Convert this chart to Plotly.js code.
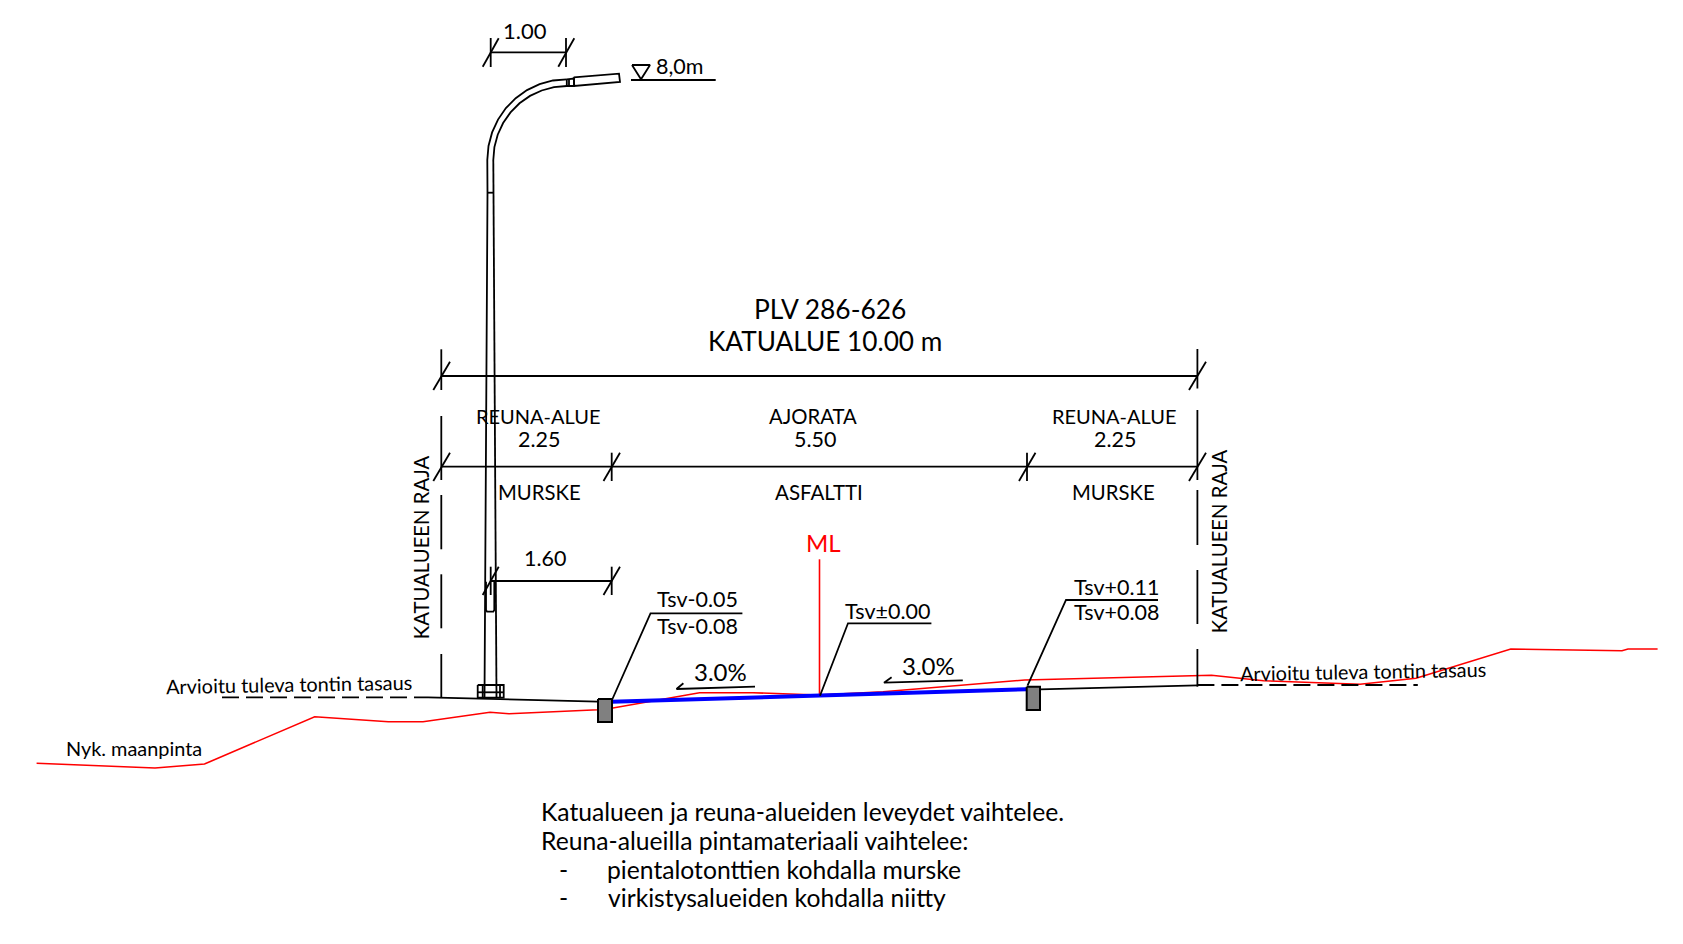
<!DOCTYPE html>
<html><head><meta charset="utf-8">
<script src="https://cdn.plot.ly/plotly-3.0.1.min.js"></script>
<style>html,body{margin:0;padding:0;background:#fff}#c{width:1683px;height:944px}</style>
</head><body><div id="c"></div>
<script>
// Values (horizontal / vertical position on the drawing sheet)
const groundX=[36.6,155,204.5,314.7,388.4,423,490,509,598,611.5,699.5,753,818,883,1024.8,1100,1197.4,1211.5,1263.6,1315.6,1360,1416,1510.8,1622,1628,1657.6];
const groundY=[763.3,768,764,716.7,721.7,721.7,712.3,713.7,709.7,708.3,692.7,692.7,695,691.7,680,678.3,676,675.3,680.7,682.7,684.3,678.3,649,650.7,649,649];
const asphaltX=[611.5,820,1026.7];
const asphaltY=[701.7,695.7,689.3];
const levelX=[428,598,null,1040,1197.4];
const levelY=[697.3,701.7,null,689.3,685.3];
const futureX=[222,428,null,1197.4,1417.8];
const futureY=[697.3,697.3,null,685,685];
const mlX=[819.5,819.5];
const mlY=[559.3,695.5];
const curbLeftX=[598,612,612,598,598];
const curbLeftY=[699,699,722,722,699];
const curbRightX=[1026.7,1040,1040,1026.7,1026.7];
const curbRightY=[686.7,686.7,710,710,686.7];
const armOuterX=[487.3,488.5,492.1,498,505.9,515.7,527,539.6,553,566.8];
const armOuterY=[160,146,132.4,119.6,108.1,98.2,90.1,84.2,80.5,79.3];
const armInnerX=[493.3,494.4,497.7,503.1,510.5,519.5,530,541.7,554,566.8];
const armInnerY=[160,147.1,134.7,123,112.4,103.3,95.9,90.5,87.1,86];
const poleX=[487.3,487.5,484.5,null,493.3,493.5,496.5,null,487.5,493.5,null,486,486,487,493.3,494.3,494.3,null,477.7,503.7,503.7,477.7,477.7,null,477.7,503.7,null,482.7,482.7,null,500,500];
const poleY=[160,192.7,697.5,null,160,192.7,697.5,null,192.7,192.7,null,581.7,610,611.7,611.7,610,581.7,null,685,685,697.7,697.7,685,null,692.3,692.3,null,685,697.7,null,685,697.7];
const lampX=[566.8,574,574,566.8,566.8,null,569,569,null,573.7,619,620,574.3,573.7];
const lampY=[79.3,78.5,86,86,79.3,null,79.5,86,null,77.3,73.7,82,86,77.3];
const levelMarkX=[632,650,641,632,null,631,715.7];
const levelMarkY=[65,65,79.3,65,null,80,80];
const dimX=[441.3,1197.4,null,441.3,1197.4,null,490.7,611.7,null,490.7,566,null,
  433.3,450,null,1189,1206,null,433.3,450,null,603.5,620,null,1019,1035.5,null,1189,1206,null,482.7,498.7,null,603.5,620,null,482.7,498.7,null,558.3,574.3,null,
  490.7,490.7,null,566,566,null,490.7,490.7,null,611.7,611.7,null,611.7,611.7,null,1027,1027];
const dimY=[376,376,null,466.7,466.7,null,581,581,null,52.3,52.3,null,
  390,361.7,null,390,361.7,null,481,452.7,null,481,452.7,null,481,452.7,null,481,452.7,null,595,566.7,null,595,566.7,null,66.7,38.3,null,66.7,38.3,null,
  38,67,null,38,67,null,566.7,595,null,566.7,595,null,452.7,481,null,452.7,481];
const borderX=[441.3,441.3,null,441.3,441.3,null,441.3,441.3,null,441.3,441.3,null,441.3,441.3,null,1197.4,1197.4,null,1197.4,1197.4,null,1197.4,1197.4,null,1197.4,1197.4,null,1197.4,1197.4];
const borderY=[349.3,390,null,416,480,null,495,549.3,null,574.3,628.3,null,654,697,null,349,388.5,null,410,480,null,490,545,null,570,624,null,649,686.7];
const leaderX=[612,650.5,742.4,null,820,848,931.4,null,1027.5,1066,1158];
const leaderY=[700,613.3,613.3,null,695.7,623.3,623.3,null,685.7,600,600];
const slopeX=[755,676.5,683.4,null,962.8,884,891.6];
const slopeY=[686.7,689,683.3,null,680.3,682.7,677.3];

const labels=[
 ["1.00",524.5,30.5,22,0,"#000"],["8,0m",680,65.7,21.5,0,"#000"],
 ["PLV 286-626",829.7,308.5,26.4,0,"#000"],["KATUALUE 10.00 m",825.4,341,26.2,0,"#000"],
 ["REUNA-ALUE",538.3,415.7,20,0,"#000"],["2.25",539.3,439,21.5,0,"#000"],["MURSKE",539.7,492.2,20.3,0,"#000"],
 ["AJORATA",813,415.7,20.3,0,"#000"],["5.50",815.3,439,21.5,0,"#000"],["ASFALTTI",818.7,492.2,20.5,0,"#000"],
 ["REUNA-ALUE",1114,415.7,20,0,"#000"],["2.25",1114.5,439,21.5,0,"#000"],["MURSKE",1113.5,492.2,20.3,0,"#000"],
 ["ML",823.3,542.7,24,0,"#f00"],["1.60",545.3,558.3,21.5,0,"#000"],
 ["Tsv-0.05",697.6,599,21.5,0,"#000"],["Tsv-0.08",697.6,625.7,21.5,0,"#000"],["Tsv±0.00",887.8,610.7,21.5,0,"#000"],
 ["Tsv+0.11",1116,586.7,21.5,0,"#000"],["Tsv+0.08",1116,612.3,21.5,0,"#000"],
 ["3.0%",720.5,671.3,24,0,"#000"],["3.0%",928.4,665,24,0,"#000"],
 ["KATUALUEEN RAJA",420.7,547.5,20.3,-90,"#000"],["KATUALUEEN RAJA",1218.5,541.7,20.3,-90,"#000"],
 ["Arvioitu tuleva tontin tasaus",289.3,684,19.9,-1,"#000"],["Arvioitu tuleva tontin tasaus",1363,671.2,19.9,-1,"#000"],
 ["Nyk. maanpinta",134,748.3,19.9,0,"#000"]
];
const notes=[["Katualueen ja reuna-alueiden leveydet vaihtelee.",539,811.5],["Reuna-alueilla pintamateriaali vaihtelee:",539,840.5],
 ["-",557,869.5],["pientalotonttien kohdalla murske",605,869.5],["-",557,897.3],["virkistysalueiden kohdalla niitty",606,897.3]];

const FONT="Lato, Carlito, sans-serif";
function ln(x,y,color,width,extra){return {type:"scatter",mode:"lines",x:x,y:y,hoverinfo:"skip",showlegend:false,connectgaps:false,line:Object.assign({color:color,width:width},extra||{})};}
const traces=[
 ln(groundX,groundY,"#f00",1.6),
 ln(levelX,levelY,"#000",1.8),
 ln(futureX,futureY,"#000",1.8,{dash:"17px,7px"}),
 ln(mlX,mlY,"#f00",1.6),
 ln(asphaltX,asphaltY,"#00f",4),
 ln(armOuterX,armOuterY,"#000",1.8),
 ln(armInnerX,armInnerY,"#000",1.8),
 ln(poleX,poleY,"#000",1.8),
 ln(lampX,lampY,"#000",1.8),
 ln(levelMarkX,levelMarkY,"#000",1.8),
 ln(dimX,dimY,"#000",1.8),
 ln(borderX,borderY,"#000",1.8),
 ln(leaderX,leaderY,"#000",1.8),
 ln(slopeX,slopeY,"#000",1.8),
 Object.assign(ln(curbLeftX,curbLeftY,"#000",2),{fill:"toself",fillcolor:"#808080"}),
 Object.assign(ln(curbRightX,curbRightY,"#000",2),{fill:"toself",fillcolor:"#808080"})
];
const annotations=labels.map(l=>({x:l[1],y:l[2],xref:"x",yref:"y",text:l[0],showarrow:false,xanchor:"center",yanchor:"middle",textangle:l[4],font:{family:FONT,size:l[3],color:l[5]}}))
 .concat(notes.map(n=>({x:n[1],y:n[2],xref:"x",yref:"y",text:n[0],showarrow:false,xanchor:"left",yanchor:"middle",font:{family:FONT,size:24.7,color:"#000"}})));
const axis={visible:false,showgrid:false,zeroline:false,fixedrange:true};
Plotly.newPlot("c",traces,{
 width:1683,height:944,margin:{l:0,r:0,t:0,b:0},paper_bgcolor:"#fff",plot_bgcolor:"#fff",showlegend:false,
 xaxis:Object.assign({range:[0,1683]},axis),
 yaxis:Object.assign({range:[944,0]},axis),
 annotations:annotations
},{displayModeBar:false,staticPlot:true});
</script></body></html>
